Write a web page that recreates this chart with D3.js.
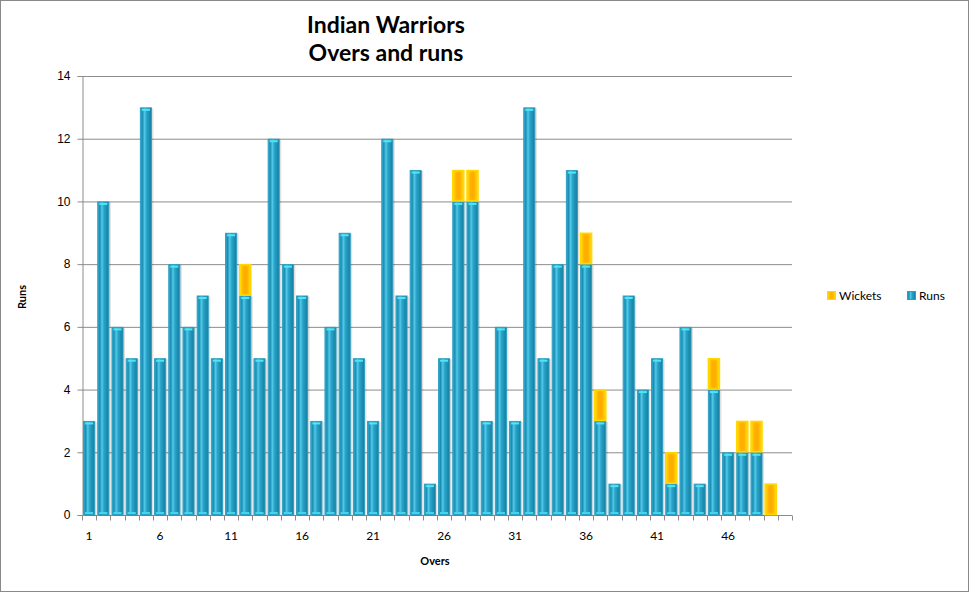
<!DOCTYPE html>
<html><head><meta charset="utf-8">
<script src="https://cdn.jsdelivr.net/npm/d3@7"></script>
<style>
body{margin:0;background:#fff;}
svg{display:block;font-family:Lato,"Open Sans",sans-serif;}
</style></head>
<body>
<svg id="chart" width="970" height="593"></svg>
<script>
const overs = d3.range(1, 51).map(String);
const runs = [3,10,6,5,13,5,8,6,7,5, 9,7,5,12,8,7,3,6,9,5, 3,12,7,11,1,5,10,10,3,6, 3,13,5,8,11,8,3,1,7,4, 5,1,6,1,4,2,2,2,0,null];
const wickets = [0,0,0,0,0,0,0,0,0,0, 0,1,0,0,0,0,0,0,0,0, 0,0,0,0,0,0,1,1,0,0, 0,0,0,0,0,1,1,0,0,0, 0,1,0,0,1,0,1,1,1,null];
const yTicks = [0,2,4,6,8,10,12,14];
const xTickLabels = ["1","6","11","16","21","26","31","36","41","46"];
const titleLines = ["Indian Warriors","Overs and runs"];

const svg = d3.select("#chart");
const m = {l:82, r:792, t:76, b:515};

svg.append("rect").attr("x",0.5).attr("y",0.5).attr("width",968).attr("height",591)
  .attr("fill","#fff").attr("stroke","#8a8a8a");

const defs = svg.append("defs");
const gb = defs.append("linearGradient").attr("id","gBlue").attr("x1","0").attr("x2","1").attr("y1","0").attr("y2","0");
[["0%","#33b0d6"],["18%","#1b8db2"],["38%","#52c9e8"],["55%","#2aa5cb"],["85%","#1a8aae"],["100%","#177ea0"]]
  .forEach(([o,c])=>gb.append("stop").attr("offset",o).attr("stop-color",c));
const gy = defs.append("linearGradient").attr("id","gYel").attr("x1","0").attr("x2","1").attr("y1","0").attr("y2","0");
[["0%","#ffe21a"],["20%","#ffc400"],["50%","#ffb000"],["80%","#ffc400"],["100%","#ffe21a"]]
  .forEach(([o,c])=>gy.append("stop").attr("offset",o).attr("stop-color",c));

const x = d3.scaleBand().domain(overs).range([m.l, m.r]).paddingInner(0.15).paddingOuter(0.075);
const y = d3.scaleLinear().domain([0,14]).range([m.b, m.t]);

// gridlines
svg.append("g").selectAll("line").data(yTicks).join("line")
  .attr("x1",m.l).attr("x2",m.r).attr("y1",d=>y(d)+0.5).attr("y2",d=>y(d)+0.5)
  .attr("stroke","#8c8c8c").attr("stroke-width",1);

// y axis
const ya = svg.append("g").attr("transform",`translate(${m.l+0.5},0)`)
  .call(d3.axisLeft(y).tickValues(yTicks).tickSize(5).tickPadding(7));
ya.select(".domain").attr("stroke","#8c8c8c");
ya.selectAll(".tick line").attr("stroke","#8c8c8c");
ya.selectAll("text").attr("font-size",12).attr("fill","#000");

// x axis with ticks at category boundaries
const xa = svg.append("g").attr("transform",`translate(0,${m.b+0.5})`);
xa.append("line").attr("x1",m.l).attr("x2",m.r).attr("stroke","#8c8c8c");
xa.selectAll("line.tk").data(d3.range(0,51)).join("line").attr("class","tk")
  .attr("x1",i=>Math.round(m.l + i*(m.r-m.l)/50)+0.5).attr("x2",i=>Math.round(m.l + i*(m.r-m.l)/50)+0.5)
  .attr("y1",0).attr("y2",5).attr("stroke","#8c8c8c");
xa.selectAll("text").data(xTickLabels).join("text")
  .attr("x",d=>x(d)+x.bandwidth()/2).attr("y",24)
  .attr("text-anchor","middle").attr("font-size",12).text(d=>d);

// bars
const data = overs.map((o,i)=>({o, r:runs[i], w:wickets[i]})).filter(d=>d.r!==null);
const bw = x.bandwidth();
const g = svg.append("g");
// runs
g.selectAll("g.run").data(data.filter(d=>d.r>0)).join("g").attr("class","run").each(function(d){
  const s = d3.select(this);
  const x0 = x(d.o), y0 = y(d.r), h = y(0)-y(d.r);
  s.append("rect").attr("x",x0+1.5).attr("y",y0+1).attr("width",bw).attr("height",h)
    .attr("fill","rgba(0,0,0,0.12)");
  s.append("rect").attr("x",x0+0.5).attr("y",y0+0.5).attr("width",bw-1).attr("height",h-1)
    .attr("fill","url(#gBlue)").attr("stroke","#2f9ec2").attr("stroke-width",1);
  s.append("rect").attr("x",x0+2).attr("y",y0+1.5).attr("width",bw-4).attr("height",2)
    .attr("fill","#4fe6f4");
  s.append("rect").attr("x",x0+2).attr("y",y(0)-3).attr("width",bw-4).attr("height",2)
    .attr("fill","#3fd6ee");
});
// wickets
g.selectAll("g.wk").data(data.filter(d=>d.w>0)).join("g").attr("class","wk").each(function(d){
  const s = d3.select(this);
  const x0 = x(d.o), y0 = y(d.r+d.w), h = y(d.r)-y(d.r+d.w);
  s.append("rect").attr("x",x0+0.5).attr("y",y0+0.5).attr("width",bw-1).attr("height",h-1)
    .attr("fill","url(#gYel)").attr("stroke","#ffd800").attr("stroke-width",1.5);
  s.append("rect").attr("x",x0+3.5).attr("y",y0+3).attr("width",bw-7).attr("height",Math.max(0,h-6))
    .attr("fill","#ffa800").attr("opacity",0.6);
});

// titles
svg.append("g").selectAll("text").data(titleLines).join("text")
  .attr("x",386).attr("y",(d,i)=>33+i*28).attr("text-anchor","middle")
  .attr("font-size",23).attr("font-weight","bold").text(d=>d);
svg.append("text").attr("transform","translate(26,297) rotate(-90)").attr("text-anchor","middle")
  .attr("font-size",11).attr("font-weight","bold").text("Runs");
svg.append("text").attr("x",435).attr("y",565).attr("text-anchor","middle")
  .attr("font-size",11).attr("font-weight","bold").text("Overs");

// legend
const legend = [{n:"Wickets",f:"url(#gYel)",s:"#ffd800",x:827},{n:"Runs",f:"url(#gBlue)",s:"#2f9ec2",x:907}];
const lg = svg.append("g").selectAll("g").data(legend).join("g").attr("transform",d=>`translate(${d.x},291)`);
lg.append("rect").attr("x",0.5).attr("y",0.5).attr("width",8).attr("height",8).attr("fill",d=>d.f).attr("stroke",d=>d.s);
lg.append("text").attr("x",12).attr("y",9).attr("font-size",12).text(d=>d.n);
</script>
</body></html>
